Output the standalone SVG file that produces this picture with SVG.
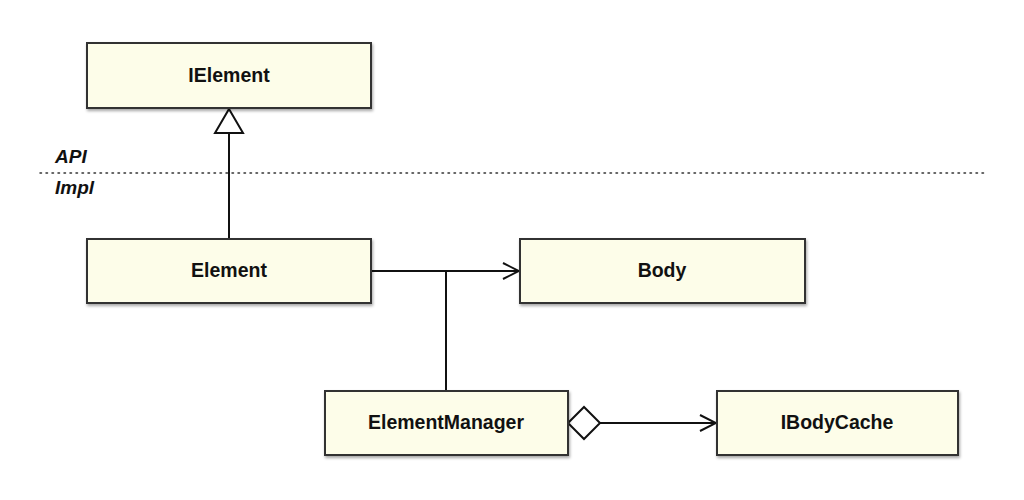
<svg xmlns="http://www.w3.org/2000/svg" width="1024" height="500" viewBox="0 0 1024 500">
<style>
.box{fill:#fdfde9;stroke:#333;stroke-width:2;filter:url(#sh)}
.lbl{font-family:"Liberation Sans",Arial,sans-serif;font-weight:bold;font-size:19.5px;fill:#111;text-anchor:middle;dominant-baseline:central}
.side{font-family:"Liberation Sans",Arial,sans-serif;font-weight:bold;font-style:italic;font-size:19px;fill:#111}
.ln{stroke:#111;stroke-width:2;fill:none}
</style>
<defs>
<filter id="sh" x="-10%" y="-10%" width="120%" height="130%">
<feDropShadow dx="1" dy="2" stdDeviation="1.5" flood-color="#000" flood-opacity="0.35"/>
</filter>
<marker id="open" markerWidth="20" markerHeight="20" refX="18" refY="10" orient="auto" markerUnits="userSpaceOnUse">
<path d="M2,2 L18,10 L2,18" fill="none" stroke="#111" stroke-width="2"/>
</marker>
</defs>
<rect width="1024" height="500" fill="#fff"/>
<line x1="40" y1="173" x2="985" y2="173" stroke="#333" stroke-width="1.5" stroke-dasharray="1.5 4.5" stroke-linecap="round"/>
<text class="side" x="55" y="163">API</text>
<text class="side" x="55" y="194">Impl</text>
<g id="connectors">
<line class="ln" x1="229" y1="239" x2="229" y2="133"/>
<path d="M229,109 L243,133 L215,133 Z" fill="#fff" stroke="#111" stroke-width="2"/>
<line class="ln" x1="371" y1="271" x2="519" y2="271" marker-end="url(#open)"/>
<line class="ln" x1="446" y1="271" x2="446" y2="391"/>
<line class="ln" x1="599" y1="423" x2="716" y2="423" marker-end="url(#open)"/>
<path d="M568,423 L584,407 L600,423 L584,439 Z" fill="#fff" stroke="#111" stroke-width="2"/>
</g>
<g id="IElement"><rect class="box" x="87" y="43" width="284" height="65"/><text class="lbl" x="229" y="75">IElement</text></g>
<g id="Element"><rect class="box" x="87" y="239" width="284" height="64"/><text class="lbl" x="229" y="270">Element</text></g>
<g id="Body"><rect class="box" x="520" y="239" width="285" height="64"/><text class="lbl" x="662" y="270">Body</text></g>
<g id="ElementManager"><rect class="box" x="325" y="391" width="243" height="64"/><text class="lbl" x="446" y="422">ElementManager</text></g>
<g id="IBodyCache"><rect class="box" x="717" y="391" width="241" height="64"/><text class="lbl" x="837" y="422">IBodyCache</text></g>
</svg>
